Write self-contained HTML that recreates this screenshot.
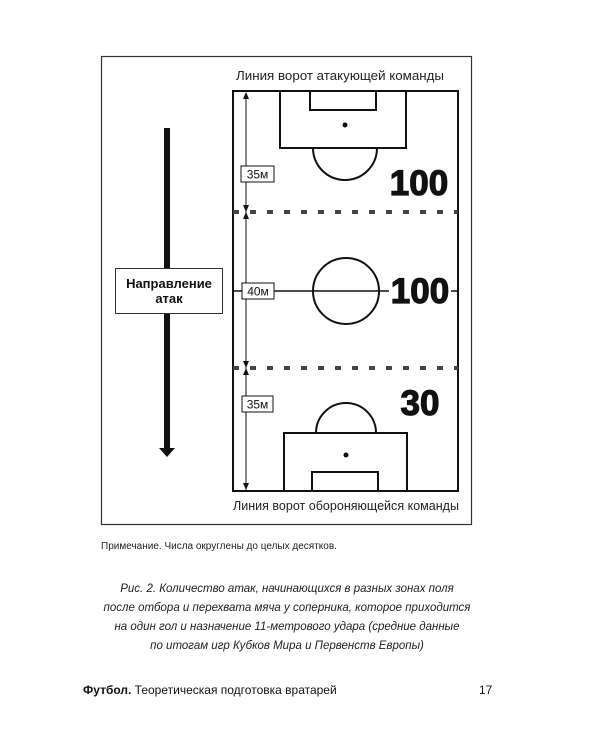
<!DOCTYPE html>
<html><head><meta charset="utf-8"><style>
html,body{margin:0;padding:0;background:#fff;}
body{width:600px;height:750px;overflow:hidden;}
</style></head><body>
<svg width="600" height="750" viewBox="0 0 600 750" xmlns="http://www.w3.org/2000/svg" font-family="'Liberation Sans','DejaVu Sans',sans-serif">
<rect x="101.5" y="56.5" width="370" height="468" fill="none" stroke="#333" stroke-width="1.2"/>
<text x="340" y="80" font-size="13" text-anchor="middle" fill="#222" textLength="208" lengthAdjust="spacingAndGlyphs">Линия ворот атакующей команды</text>
<text x="346" y="510" font-size="13" text-anchor="middle" fill="#222" textLength="226" lengthAdjust="spacingAndGlyphs">Линия ворот обороняющейся команды</text>
<g fill="none" stroke="#111" stroke-width="2">
<rect x="233" y="91" width="225" height="400"/>
<rect x="280" y="91" width="126" height="57"/>
<rect x="310" y="91" width="66" height="19"/>
<path d="M313 148 A30 30 0 0 0 377 148"/>
<circle cx="346" cy="291" r="33"/>
<rect x="284" y="433" width="123" height="58"/>
<rect x="312" y="472" width="66" height="19"/>
<path d="M316 433 A30 30 0 0 1 376 433"/>
</g>
<line x1="233" y1="291" x2="458" y2="291" stroke="#111" stroke-width="1.6"/>
<circle cx="345" cy="125" r="2.5" fill="#111"/>
<circle cx="346" cy="455" r="2.5" fill="#111"/>
<g stroke="#444" stroke-width="4" stroke-dasharray="6 11">
<line x1="233" y1="212" x2="458" y2="212"/>
<line x1="233" y1="368" x2="458" y2="368"/>
</g>
<line x1="246" y1="93" x2="246" y2="490" stroke="#111" stroke-width="1"/>
<g fill="#111">
<path d="M246 92 l-3 7 h6z"/><path d="M246 212 l-3 -7 h6z"/><path d="M246 212 l-3 7 h6z"/>
<path d="M246 368 l-3 -7 h6z"/><path d="M246 368 l-3 7 h6z"/><path d="M246 490 l-3 -7 h6z"/>
</g>
<g font-size="12" fill="#111">
<rect x="241" y="166" width="33" height="16" fill="#fff" stroke="#111"/>
<text x="257.5" y="178.5" text-anchor="middle">35м</text>
<rect x="242" y="283" width="32" height="16" fill="#fff" stroke="#111"/>
<text x="258" y="295.5" text-anchor="middle">40м</text>
<rect x="242" y="396" width="31" height="16" fill="#fff" stroke="#111"/>
<text x="257.5" y="408.5" text-anchor="middle">35м</text>
</g>
<rect x="389" y="278" width="62" height="26" fill="#fff"/>
<g font-weight="bold" font-size="35" fill="#111" stroke="#111" stroke-width="1.2">
<text x="419" y="195" text-anchor="middle">100</text>
<text x="420" y="303" text-anchor="middle">100</text>
<text x="420" y="415" text-anchor="middle">30</text>
</g>
<rect x="164" y="128" width="6" height="140" fill="#111"/>
<rect x="164" y="313" width="6" height="137" fill="#111"/>
<path d="M159 448 h16 l-8 9z" fill="#111"/>
<rect x="115.5" y="268.5" width="107" height="45" fill="#fff" stroke="#333"/>
<text x="169" y="288" text-anchor="middle" font-size="13" font-weight="bold" fill="#111">Направление</text>
<text x="169" y="303" text-anchor="middle" font-size="13" font-weight="bold" fill="#111">атак</text>
<text x="101" y="549" font-size="10" fill="#222">Примечание. Числа округлены до целых десятков.</text>
<g font-size="11.5" font-style="italic" fill="#222" text-anchor="middle">
<text x="287" y="592">Рис. 2. Количество атак, начинающихся в разных зонах поля</text>
<text x="287" y="611">после отбора и перехвата мяча у соперника, которое приходится</text>
<text x="287" y="630">на один гол и назначение 11-метрового удара (средние данные</text>
<text x="287" y="649">по итогам игр Кубков Мира и Первенств Европы)</text>
</g>
<text x="83" y="694" font-size="12" fill="#111"><tspan font-weight="bold">Футбол.</tspan> Теоретическая подготовка вратарей</text>
<text x="479" y="694" font-size="12" fill="#111">17</text>
</svg>
</body></html>
